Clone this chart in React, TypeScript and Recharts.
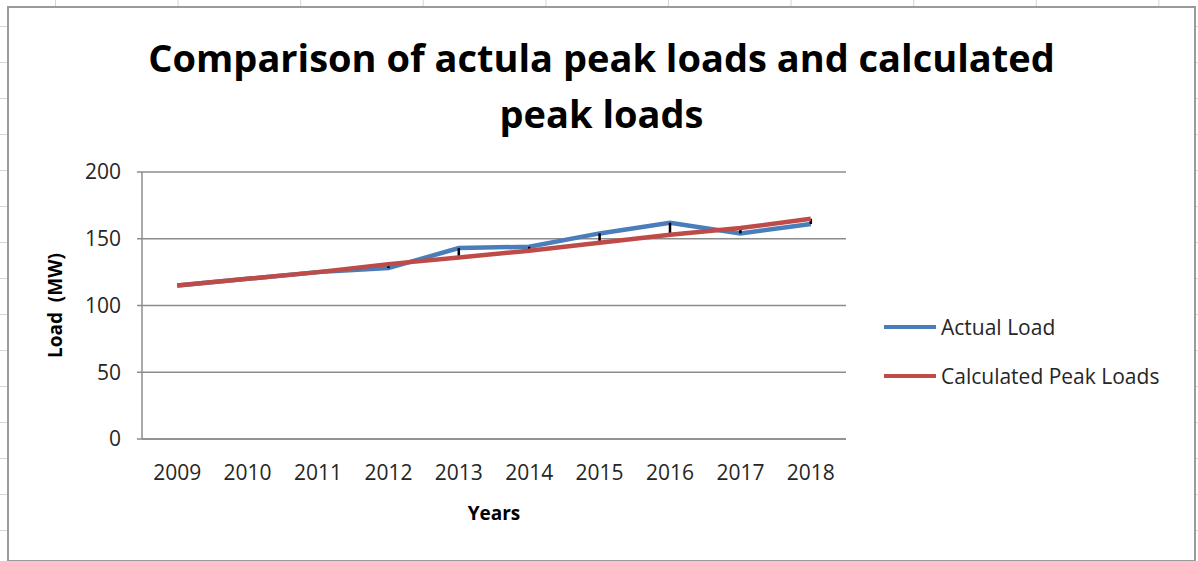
import React from 'react';
import {
  LineChart,
  Line,
  XAxis,
  YAxis,
  CartesianGrid,
  Legend,
  ErrorBar,
} from 'recharts';

// Peak loads per year (MW)
const years = ['2009', '2010', '2011', '2012', '2013', '2014', '2015', '2016', '2017', '2018'];
const actualLoad = [115, 120, 125, 128, 143, 144, 154, 162, 154, 161];
const calculatedLoad = [115, 120, 125, 131, 136, 141, 147, 153, 158, 165];
const loadTicks = [0, 50, 100, 150, 200];

// High-low spread between the two series, drawn as black bars on the calculated line
const data = years.map((year, i) => {
  const a = actualLoad[i];
  const c = calculatedLoad[i];
  return {
    year,
    actual: a,
    calculated: c,
    spread: [c - Math.min(a, c), Math.max(a, c) - c],
  };
});

const FONT = '"Open Sans", "Noto Sans", sans-serif';
const BLUE = '#4A7EBB';
const RED = '#BE4B48';
const GRID = '#8c8c8c';

const CHART_W = 1185;
const CHART_H = 552;
const PLOT_W = CHART_W - 133 - 348;
const HALF_BAND = PLOT_W / years.length / 2;

function LegendContent(props: any) {
  const payload = props.payload || [];
  return (
    <div style={{ fontFamily: FONT }}>
      {payload.map((entry: any) => (
        <div
          key={entry.value}
          style={{ display: 'flex', alignItems: 'center', height: 49 }}
        >
          <span
            style={{
              display: 'inline-block',
              width: 52,
              height: 4,
              background: entry.color,
              marginRight: 5,
            }}
          />
          <span style={{ fontSize: 21, color: '#262626' }}>{entry.value}</span>
        </div>
      ))}
    </div>
  );
}

function YTitle(props: any) {
  const vb = props.viewBox;
  const cx = vb.x + 46;
  const cy = vb.y + vb.height / 2;
  return (
    <text
      x={cx}
      y={cy}
      transform={`rotate(-90, ${cx}, ${cy})`}
      textAnchor="middle"
      dominantBaseline="central"
      fontFamily={FONT}
      fontWeight="bold"
      fontSize={19}
      fill="#000"
      style={{ whiteSpace: 'pre' }}
    >
      {'Load  (MW)'}
    </text>
  );
}

function XTitle(props: any) {
  const vb = props.viewBox;
  return (
    <text
      x={vb.x + vb.width / 2}
      y={vb.y + 74}
      textAnchor="middle"
      dominantBaseline="central"
      fontFamily={FONT}
      fontWeight="bold"
      fontSize={19}
      fill="#000"
    >
      Years
    </text>
  );
}

export default function App() {
  return (
    <div
      style={{
        position: 'absolute',
        left: 0,
        top: 0,
        width: 1198,
        height: 561,
        overflow: 'hidden',
        background: '#fff',
        backgroundImage:
          'linear-gradient(to right, #d6d6d6 1px, transparent 1px), linear-gradient(to bottom, #d6d6d6 1px, transparent 1px)',
        backgroundSize: '122.6px 100%, 100% 36px',
        backgroundPosition: '55px 0, 0 26px',
      }}
    >
      <div
        style={{
          position: 'absolute',
          left: 7,
          top: 6,
          width: CHART_W,
          height: CHART_H,
          border: '2px solid #9a9a9a',
          background: '#fff',
        }}
      >
        <div
          style={{
            position: 'absolute',
            left: 0,
            top: 21,
            width: '100%',
            textAlign: 'center',
            fontFamily: FONT,
            fontWeight: 700,
            fontSize: 38,
            lineHeight: '56px',
            color: '#000',
          }}
        >
          Comparison of actula peak loads and calculated
          <br />
          peak loads
        </div>
        <div style={{ position: 'absolute', left: 0, top: 0 }}>
          <LineChart
            width={CHART_W}
            height={CHART_H}
            data={data}
            margin={{ top: 164, right: 348, bottom: 41, left: 0 }}
          >
            <CartesianGrid vertical={false} stroke={GRID} strokeWidth={1.5} />
            <XAxis
              dataKey="year"
              height={80}
              padding={{ left: HALF_BAND, right: HALF_BAND }}
              axisLine={{ stroke: GRID, strokeWidth: 1.5 }}
              tickLine={false}
              tickSize={0}
              tickMargin={26}
              tick={{ fill: '#262626', fontSize: 21, fontFamily: FONT }}
              label={<XTitle />}
            />
            <YAxis
              width={133}
              domain={[0, 200]}
              ticks={loadTicks}
              interval={0}
              axisLine={{ stroke: GRID, strokeWidth: 1.5 }}
              tickLine={{ stroke: GRID, strokeWidth: 1.5 }}
              tickSize={5}
              tickMargin={16}
              tick={{ fill: '#262626', fontSize: 21, fontFamily: FONT }}
              label={<YTitle />}
            />
            <Legend
              layout="vertical"
              align="center"
              verticalAlign="middle"
              wrapperStyle={{ left: 875, top: 294, width: 300 }}
              content={<LegendContent />}
            />
            <Line
              type="linear"
              dataKey="actual"
              name="Actual Load"
              stroke={BLUE}
              strokeWidth={4.5}
              dot={false}
              activeDot={false}
              isAnimationActive={false}
            />
            <Line
              type="linear"
              dataKey="calculated"
              name="Calculated Peak Loads"
              stroke={RED}
              strokeWidth={4.5}
              dot={false}
              activeDot={false}
              isAnimationActive={false}
            >
              <ErrorBar
                dataKey="spread"
                direction="y"
                width={0}
                stroke="#000"
                strokeWidth={2.5}
                isAnimationActive={false}
              />
            </Line>
          </LineChart>
        </div>
      </div>
    </div>
  );
}
